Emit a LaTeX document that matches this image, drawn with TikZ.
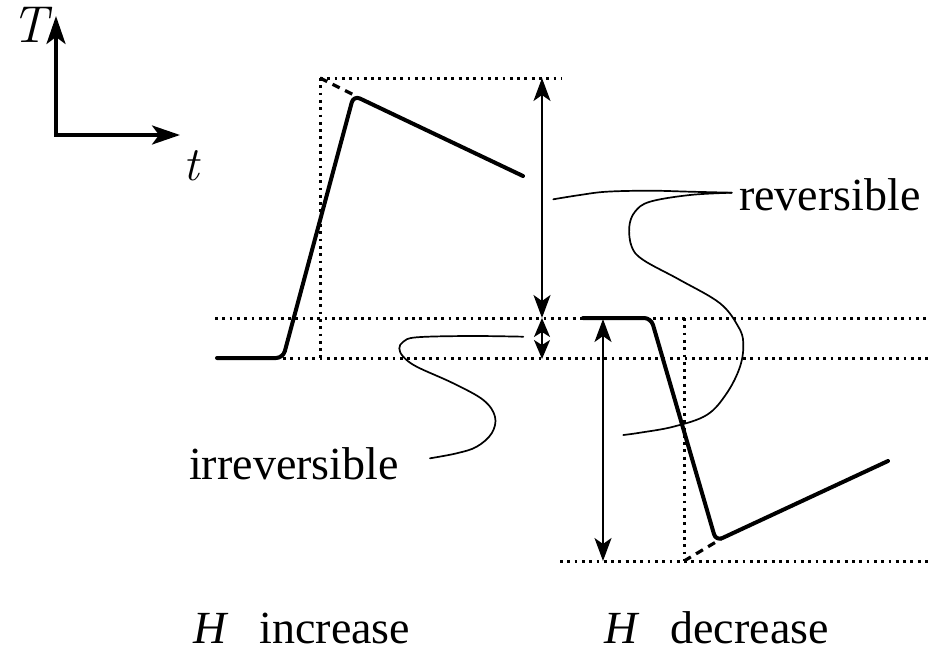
\documentclass[tikz,border=0pt]{standalone}
\usepackage{fontspec}
\setmainfont{Liberation Serif}
\newfontfamily\lmfont{Latin Modern Roman}
\usetikzlibrary{arrows.meta}
\begin{document}
\begin{tikzpicture}[x=1pt,y=-1pt,
 thickcurve/.style={line width=4pt, line join=round, line cap=round, rounded corners=7pt},
 dotline/.style={line width=3pt, dash pattern=on 2.8pt off 4.5pt},
 dashline/.style={line width=3.2pt, dash pattern=on 8pt off 6pt},
 axis/.style={line width=3.6pt, {Stealth[length=28pt,width=19pt,inset=7pt]}-{Stealth[length=28pt,width=19pt,inset=7pt]}},
 dimarrow/.style={line width=1.9pt, {Stealth[length=23pt,width=17pt,inset=6pt]}-{Stealth[length=23pt,width=17pt,inset=6pt]}},
 smallarrow/.style={line width=1.9pt, {Stealth[length=19pt,width=16pt,inset=5pt]}-{Stealth[length=19pt,width=16pt,inset=5pt]}},
 leader/.style={line width=1.7pt, line cap=round},
 lbl/.style={font=\fontsize{46}{50}\selectfont, inner sep=0pt, anchor=base west, text depth=0pt},
]
\useasboundingbox (0,0) rectangle (932,656);

% axes
\coordinate (O) at (56,135);
\coordinate (Ty) at (56,16);
\coordinate (tx) at (180,135);
\draw[axis] (Ty) -- (O) -- (tx);
\node[lbl, font=\fontsize{52}{56}\selectfont\lmfont\itshape] (Tlab) at (11,42) {T};
\node[lbl, font=\fontsize{48}{52}\selectfont\lmfont\itshape] (tlab) at (183,180) {t};

% reference points
\coordinate (a0) at (217,358);
\coordinate (a1) at (283,358);
\coordinate (a2) at (353.6,95.5);
\coordinate (a3) at (523,176);
\coordinate (b0) at (583,318);
\coordinate (b1) at (651,318);
\coordinate (b2) at (716,541);
\coordinate (b3) at (888,461);

\coordinate (pTL) at (320,78);
\coordinate (pTR) at (562,78);
\coordinate (pBL) at (320,358);
\coordinate (m1L) at (215,318);
\coordinate (m1R) at (930,318);
\coordinate (m2R) at (930,358);
\coordinate (qT) at (684,318);
\coordinate (qB) at (684,561);
\coordinate (bL) at (560,561);
\coordinate (bR) at (930,561);

% dotted guide lines
\draw[dotline] (pTL) -- (pTR);
\draw[dotline] (pTL) -- (pBL);
\draw[dotline] (m1L) -- (m1R);
\draw[dotline] (a1) -- (m2R);
\draw[dotline] (qT) -- (qB);
\draw[dotline] (bL) -- (bR);

% dashed extrapolations
\coordinate (a2d) at (357,96.5);
\coordinate (b2d) at (721,539);
\draw[dashline] (pTL) -- (a2d);
\draw[dashline] (qB) -- (b2d);

% temperature curves
\draw[thickcurve] (a0) -- (a1) -- (a2) -- (a3);
\draw[thickcurve] (b0) -- (b1) -- (b2) -- (b3);

% dimension arrows
\coordinate (d1) at (542,78);
\coordinate (d2) at (542,318);
\coordinate (d3) at (542,359);
\coordinate (e1) at (603,319);
\coordinate (e2) at (603,561);
\draw[dimarrow] (d1) -- (d2);
\draw[smallarrow] (d2) -- (d3);
\draw[dimarrow] (e1) -- (e2);

% labels
\node[lbl] (rev) at (739,210) {reversible};
\node[lbl] (irr) at (189,479) {irreversible};
\node[lbl] (hinc) at (193,643) {\textit{H}\hspace{31pt}increase};
\node[lbl] (hdec) at (604,643) {\textit{H}\hspace{31pt}decrease};

% leader curves
\draw[leader] plot[smooth, tension=0.6] coordinates {(553.3,199.3) (580,195) (606.7,191.7) (650,190.7) (690,191.7) (731.7,192.7)};
\draw[leader] plot[smooth, tension=0.6] coordinates {(731.7,192.7) (690,195) (650,201.7) (635,211.7) (629.3,226.7) (631.7,246.7) (643.3,260) (680,280) (720,303.3) (738.3,326.7) (743.3,343.3) (740,366.7) (726.7,393.3) (706.7,415) (673.3,426.7) (640,432.7) (623.3,435)};
\draw[leader] plot[smooth, tension=0.6] coordinates {(523.3,336.7) (470,336) (416.7,337.3) (403.3,341.7) (399.3,348.3) (403.3,356.7) (416.7,366.7) (453.3,383.3) (483.3,400) (495,416.7) (491.7,433.3) (476.7,446.7) (456.7,453.3) (430,458.3)};
\end{tikzpicture}
\end{document}
